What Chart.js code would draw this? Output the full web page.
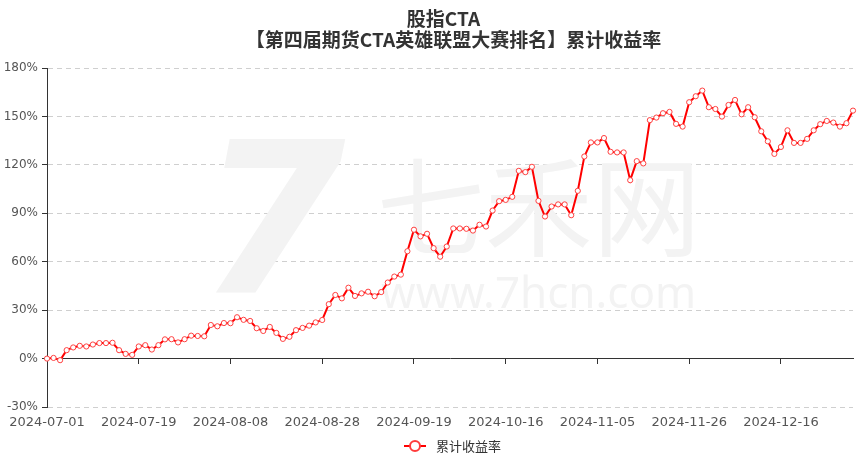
<!DOCTYPE html>
<html>
<head>
<meta charset="utf-8">
<script src="https://cdn.jsdelivr.net/npm/chart.js@4.4.1/dist/chart.umd.min.js"></script>
<style>
  body { margin: 0; background: #fff; }
  #wrap { width: 865px; height: 459px; }
</style>
</head>
<body>
<div id="wrap"><canvas id="cumChart" width="865" height="459"></canvas></div>
<script>
// 交易日
const dates = [
    '2024-07-01','2024-07-02','2024-07-03','2024-07-04','2024-07-05','2024-07-08','2024-07-09','2024-07-10','2024-07-11','2024-07-12',
    '2024-07-15','2024-07-16','2024-07-17','2024-07-18','2024-07-19','2024-07-22','2024-07-23','2024-07-24','2024-07-25','2024-07-26',
    '2024-07-29','2024-07-30','2024-07-31','2024-08-01','2024-08-02','2024-08-05','2024-08-06','2024-08-07','2024-08-08','2024-08-09',
    '2024-08-12','2024-08-13','2024-08-14','2024-08-15','2024-08-16','2024-08-19','2024-08-20','2024-08-21','2024-08-22','2024-08-23',
    '2024-08-26','2024-08-27','2024-08-28','2024-08-29','2024-08-30','2024-09-02','2024-09-03','2024-09-04','2024-09-05','2024-09-06',
    '2024-09-09','2024-09-10','2024-09-11','2024-09-12','2024-09-13','2024-09-18','2024-09-19','2024-09-20','2024-09-23','2024-09-24',
    '2024-09-25','2024-09-26','2024-09-27','2024-09-30','2024-10-08','2024-10-09','2024-10-10','2024-10-11','2024-10-14','2024-10-15',
    '2024-10-16','2024-10-17','2024-10-18','2024-10-21','2024-10-22','2024-10-23','2024-10-24','2024-10-25','2024-10-28','2024-10-29',
    '2024-10-30','2024-10-31','2024-11-01','2024-11-04','2024-11-05','2024-11-06','2024-11-07','2024-11-08','2024-11-12','2024-11-13',
    '2024-11-14','2024-11-15','2024-11-18','2024-11-19','2024-11-20','2024-11-21','2024-11-22','2024-11-25','2024-11-26','2024-11-27',
    '2024-11-28','2024-11-29','2024-12-02','2024-12-03','2024-12-04','2024-12-05','2024-12-06','2024-12-09','2024-12-10','2024-12-11',
    '2024-12-12','2024-12-13','2024-12-16','2024-12-17','2024-12-18','2024-12-19','2024-12-20','2024-12-23','2024-12-24','2024-12-25',
    '2024-12-26','2024-12-27','2024-12-30','2024-12-31'
];

// 累计收益率 (%)
const cumReturn = [
    0, 0.4, -1, 5.2, 6.9, 7.9, 7.5, 8.7, 9.6, 9.6,
    9.8, 5.2, 2.9, 2.3, 7.5, 8.3, 5.6, 8.3, 11.9, 12,
    10, 12, 14.2, 14, 13.8, 20.8, 20, 22, 21.9, 25.6,
    24, 23.3, 18.8, 17.1, 19.6, 15.9, 12.2, 13.5, 17.6, 19,
    20.4, 22.4, 23.9, 33.7, 39.4, 37.3, 43.9, 38.8, 40.4, 41.4,
    38.6, 41.2, 47.1, 50.8, 52, 66.5, 79.8, 75.7, 77.3, 68.4,
    63.1, 69.4, 80.6, 80.6, 80.4, 79.3, 82.9, 81.8, 91.7, 97.5,
    98.3, 100.2, 116.3, 115.5, 118.8, 97.7, 88, 94.2, 95.5, 95.5,
    88.8, 103.9, 125.2, 133.9, 133.9, 136.6, 128.1, 127.7, 127.7, 110.5,
    122.3, 120.9, 147.7, 149.3, 152, 152.8, 145.4, 143.7, 158.8, 162.5,
    166, 155.7, 154.6, 149.9, 157.1, 160.2, 151.3, 155.7, 149.5, 140.8,
    134.6, 126.8, 131.1, 141.4, 133.6, 133.6, 136.1, 141.4, 145.2, 147.2,
    146.2, 143.7, 145.8, 153.6
];

const titleLines = ['股指CTA', '【第四届期货CTA英雄联盟大赛排名】累计收益率'];
const seriesName = '累计收益率';
const labelEvery = 14;
const yTicks = { min: -30, max: 180, step: 30 };

document.addEventListener('DOMContentLoaded', function () {
    const ctx = document.getElementById('cumChart').getContext('2d');

    // 水印
    const watermark = {
        id: 'watermark',
        beforeDatasetsDraw(chart) {
            const a = chart.chartArea;
            const c = chart.ctx;
            c.save();
            c.fillStyle = '#f3f3f3';
            c.textAlign = 'center';
            c.textBaseline = 'middle';
            c.font = 'italic bold 210px "DejaVu Sans"';
            c.fillText('7', a.left + (a.right - a.left) * 0.28, a.top + (a.bottom - a.top) * 0.5);
            c.font = '108px "Noto Sans CJK SC"';
            c.fillText('七禾网', a.left + (a.right - a.left) * 0.61, a.top + (a.bottom - a.top) * 0.41);
            c.font = '44px "Noto Sans"';
            c.fillText('www.7hcn.com', a.left + (a.right - a.left) * 0.61, a.top + (a.bottom - a.top) * 0.67);
            c.restore();
        }
    };

    // 标题和图例
    const titleLegend = {
        id: 'titleLegend',
        afterDraw(chart) {
            const c = chart.ctx;
            const cx = chart.width / 2;
            c.save();
            c.fillStyle = '#333';
            c.textAlign = 'center';
            c.textBaseline = 'middle';
            c.font = 'bold 19px "Noto Sans CJK SC"';
            c.fillText(titleLines[0], cx + 11, 19);
            c.fillText(titleLines[1], cx + 21, 40);

            const ly = 446;
            const lx = 415;
            c.strokeStyle = '#ff0000';
            c.lineWidth = 2;
            c.beginPath();
            c.moveTo(lx - 11, ly);
            c.lineTo(lx + 11, ly);
            c.stroke();
            c.fillStyle = '#fff';
            c.strokeStyle = '#ff3b3b';
            c.beginPath();
            c.arc(lx, ly, 5, 0, Math.PI * 2);
            c.fill();
            c.stroke();
            c.fillStyle = '#333';
            c.textAlign = 'left';
            c.font = '13px "Noto Sans CJK SC"';
            c.fillText(seriesName, lx + 21, ly);
            c.restore();
        }
    };

    new Chart(ctx, {
        type: 'line',
        data: {
            labels: dates,
            datasets: [{
                label: seriesName,
                data: cumReturn,
                xAxisID: 'x',
                yAxisID: 'y',
                borderColor: '#ff0000',
                borderWidth: 2,
                tension: 0,
                pointRadius: 2.6,
                pointBorderWidth: 1,
                pointBorderColor: '#ff4040',
                pointBackgroundColor: '#fff',
                clip: false
            }]
        },
        options: {
            responsive: false,
            animation: false,
            layout: { padding: { top: 68, right: 12, bottom: 30, left: 0 } },
            plugins: {
                legend: { display: false },
                tooltip: { enabled: false },
                title: { display: false }
            },
            scales: {
                x: {
                    type: 'category',
                    position: 'bottom',
                    offset: false,
                    border: { display: false },
                    grid: { display: false, drawTicks: false },
                    ticks: {
                        autoSkip: false,
                        maxRotation: 0,
                        padding: 8,
                        color: '#555',
                        font: { family: 'DejaVu Sans', size: 13 },
                        callback: function (v, i) { return i % labelEvery === 0 ? dates[i] : null; }
                    },
                    afterFit: function (s) { s.height = 22; }
                },
                x0: {
                    type: 'category',
                    position: { y: 0 },
                    offset: false,
                    border: { display: true, color: '#333', width: 1 },
                    grid: {
                        drawOnChartArea: false,
                        drawTicks: true,
                        tickLength: 5,
                        tickColor: c => (c.index % labelEvery === 0 && c.index > 0) ? '#333' : 'transparent'
                    },
                    ticks: { display: false, autoSkip: false }
                },
                y: {
                    min: yTicks.min,
                    max: yTicks.max,
                    border: { display: true, color: '#333', width: 1, dash: [5, 4] },
                    grid: {
                        color: c => c.tick && c.tick.value === 0 ? 'transparent' : '#cfcfcf',
                        tickColor: '#333',
                        tickLength: 5,
                        lineWidth: 1
                    },
                    ticks: {
                        stepSize: yTicks.step,
                        padding: 4,
                        color: '#555',
                        font: { family: 'DejaVu Sans', size: 12 },
                        callback: v => v + '%'
                    },
                    afterFit: function (s) { s.width = 47; }
                }
            }
        },
        plugins: [watermark, titleLegend]
    });
});
</script>
</body>
</html>
